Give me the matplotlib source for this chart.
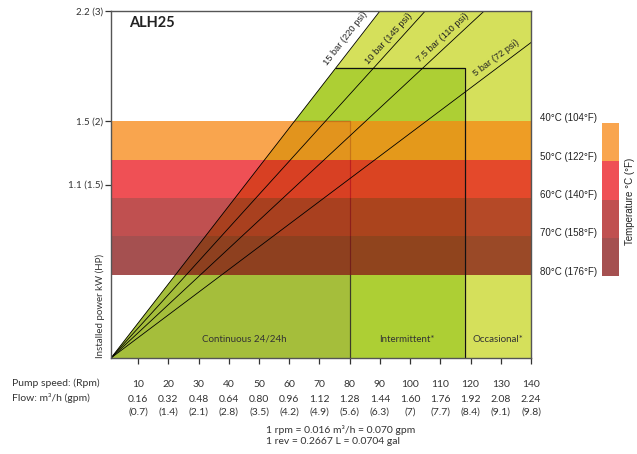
import math
import matplotlib
matplotlib.use("Agg")
import matplotlib.pyplot as plt
from matplotlib.patches import Polygon

plt.rcParams['font.family'] = ['Lato', 'DejaVu Sans']

# pump speed / flow table under the chart
rpm = [10, 20, 30, 40, 50, 60, 70, 80, 90, 100, 110, 120, 130, 140]
flow_m3h = ["0.16", "0.32", "0.48", "0.64", "0.80", "0.96", "1.12",
            "1.28", "1.44", "1.60", "1.76", "1.92", "2.08", "2.24"]
flow_gpm = ["(0.7)", "(1.4)", "(2.1)", "(2.8)", "(3.5)", "(4.2)", "(4.9)",
            "(5.6)", "(6.3)", "(7)", "(7.7)", "(8.4)", "(9.1)", "(9.8)"]

# installed power axis
kw_ticks = [2.2, 1.5, 1.1]
kw_labels = ["2.2 (3)", "1.5 (2)", "1.1 (1.5)"]

# pressure lines, from origin to end point (rpm, kW)
bar_labels = ["15 bar (220 psi)", "10 bar (145 psi)", "7.5 bar (110 psi)", "5 bar (72 psi)"]
bar_end_rpm = [90, 105, 124.5, 140]
bar_end_kw = [2.2, 2.2, 2.2, 2.0]

# duty zones (limited by the 15 bar line)
zone_names = ["Occasional*", "Intermittent*", "Continuous 24/24h"]
zone_max_rpm = [140, 118, 80]
zone_max_kw = [2.2, 1.84, 1.5]

# temperature bands
temp_labels = ["40°C (104°F)", "50°C (122°F)", "60°C (140°F)", "70°C (158°F)", "80°C (176°F)"]
temp_kw = [1.5, 1.257, 1.014, 0.771, 0.528]

# styling
X0 = 1
zone_colors = ["#d5e05b", "#adcf34", "#a5be3b"]
zone_label_rpm = [129, 99, 45]
band_colors = ["#f78713", "#ea161c", "#ab1616", "#871616"]
band_alpha = 0.75
bar_label_kw = [1.985, 1.99, 1.99, 1.86]
bar_label_gap = [7.5, 6.0, 6.0, 6.0]
txt = "#333333"

fig = plt.figure(figsize=(6.37, 4.54), dpi=100)
W, H = 637, 454
ax = fig.add_axes([111 / W, 1 - 358 / H, 420 / W, 347 / H])
ax.set_xlim(X0, 140)
ax.set_ylim(0, 2.2)

slope15 = (bar_end_rpm[0] - X0) / bar_end_kw[0]


def x_on15(kw):
    return X0 + slope15 * kw


# duty zones
for name, rmax, kmax, col, lx in zip(zone_names, zone_max_rpm, zone_max_kw, zone_colors, zone_label_rpm):
    pts = [(X0, 0), (x_on15(kmax), kmax), (rmax, kmax), (rmax, 0)]
    if name.startswith("Occ"):
        ax.add_patch(Polygon(pts, closed=True, facecolor=col, edgecolor='none', zorder=1))
    elif name.startswith("Int"):
        ax.add_patch(Polygon(pts, closed=True, facecolor=col, edgecolor='none', zorder=2))
        ax.plot([x_on15(kmax), rmax, rmax], [kmax, kmax, 0], color='#111111', lw=0.9, zorder=6)
    else:
        ax.add_patch(Polygon(pts, closed=True, facecolor=col, edgecolor='none', zorder=3))
        ax.plot([x_on15(kmax), rmax, rmax], [kmax, kmax, 0], color='#3c3c28', lw=0.9, zorder=4)
    ax.text(lx, 0.12, name, ha='center', va='center', fontsize=7, color=txt, zorder=8)

# temperature bands
for i, col in enumerate(band_colors):
    ax.axhspan(temp_kw[i + 1], temp_kw[i], color=col, alpha=band_alpha, lw=0, zorder=5)

# pressure lines with labels
for lab, er, ek, lk, d in zip(bar_labels, bar_end_rpm, bar_end_kw, bar_label_kw, bar_label_gap):
    ax.plot([X0, er], [0, ek], color='black', lw=0.6, zorder=7)
    p0 = ax.transData.transform((X0, 0))
    p1 = ax.transData.transform((er, ek))
    ang = math.atan2(p1[1] - p0[1], p1[0] - p0[0])
    xl = X0 + (er - X0) * lk / ek
    ax.annotate(lab, xy=(xl, lk), xytext=(-d * math.sin(ang), d * math.cos(ang)),
                textcoords='offset points', rotation=math.degrees(ang),
                rotation_mode='anchor', ha='center', va='center',
                fontsize=6.7, family='Liberation Sans', color='#222222', zorder=8)

# temperature labels on the right
for lab, k in zip(temp_labels, temp_kw):
    ax.annotate(lab, xy=(1, k), xycoords=('axes fraction', 'data'), xytext=(6.5, 2.2),
                textcoords='offset points', ha='left', va='center',
                fontsize=7, family='Liberation Sans', color='#222222', annotation_clip=False)

# axes styling
for s in ax.spines.values():
    s.set_color('#555555')
    s.set_linewidth(1.0)
    s.set_zorder(10)
ax.set_xticks(rpm)
ax.set_xticklabels([])
ax.set_yticks(kw_ticks)
ax.set_yticklabels(kw_labels, fontsize=7, color=txt)
ax.tick_params(direction='out', length=4, width=0.9, color='#333333', pad=2)

ax.text((129 - 111) / 420, (358 - 23) / 347, "ALH25", transform=ax.transAxes,
        fontsize=10.5, fontweight='bold', color='#222222', va='center', ha='left')

# flow table
for r, f, g in zip(rpm, flow_m3h, flow_gpm):
    for s, off in ((str(r), -19.0), (f, -30.0), (g, -39.0)):
        ax.annotate(s, xy=(r, 0), xycoords=('data', 'axes fraction'), xytext=(0, off),
                    textcoords='offset points', ha='center', va='center',
                    fontsize=7.5, color=txt, annotation_clip=False)

fig.text(12 / W, 1 - 383 / H, "Pump speed: (Rpm)", fontsize=7.5, color=txt, va='center')
fig.text(12 / W, 1 - 398 / H, "Flow: m³/h (gpm)", fontsize=7.5, color=txt, va='center')
fig.text(266 / W, 1 - 430 / H, "1 rpm = 0.016 m³/h = 0.070 gpm", fontsize=7.5, color=txt, va='center')
fig.text(266 / W, 1 - 442 / H, "1 rev = 0.2667 L = 0.0704 gal", fontsize=7.5, color=txt, va='center')
fig.text(100 / W, 1 - 306 / H, "Installed power kW (HP)", rotation=90, fontsize=7,
         color=txt, ha='center', va='center')

# temperature legend
axl = fig.add_axes([602 / W, 1 - 276 / H, 17 / W, 153 / H])
for i, col in enumerate(band_colors):
    axl.bar(0, temp_kw[i] - temp_kw[i + 1], bottom=temp_kw[i + 1], width=1,
            color=col, alpha=band_alpha, lw=0)
axl.set_xlim(-0.5, 0.5)
axl.set_ylim(temp_kw[-1], temp_kw[0])
axl.axis('off')
fig.text(630 / W, 1 - 201 / H, "Temperature °C (°F)", rotation=90, fontsize=7,
         family='Liberation Sans', color='#222222', ha='center', va='center')

fig.savefig("out.png", dpi=100)
